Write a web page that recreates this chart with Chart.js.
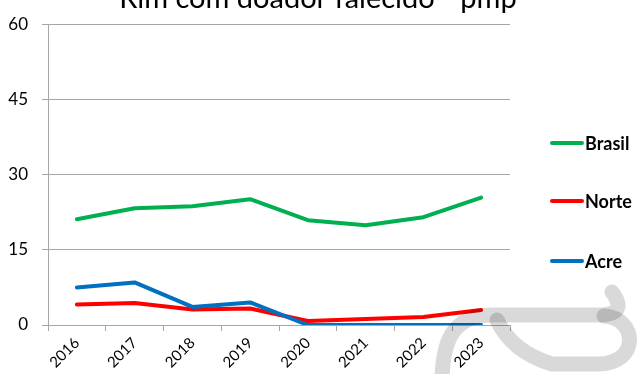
<!DOCTYPE html>
<html>
<head>
<meta charset="utf-8">
<script src="https://cdn.jsdelivr.net/npm/chart.js@4.4.1/dist/chart.umd.min.js"></script>
<style>
  html, body { margin: 0; padding: 0; background: #fff; }
  #wrap { width: 640px; height: 374px; position: relative; }
</style>
</head>
<body>
<div id="wrap"><canvas id="rimChart" width="640" height="374"></canvas></div>
<script>
// Chart values
const years = ['2016', '2017', '2018', '2019', '2020', '2021', '2022', '2023'];
const brasil = [21.1, 23.3, 23.7, 25.1, 20.9, 19.9, 21.5, 25.4];
const norte = [4.1, 4.4, 3.1, 3.3, 0.8, 1.2, 1.6, 3.0];
const acre = [7.5, 8.5, 3.6, 4.5, 0, 0, 0, 0];
const seriesNames = ['Brasil', 'Norte', 'Acre'];
const seriesColors = ['#00B050', '#FF0000', '#0070C0'];
const yTicks = [0, 15, 30, 45, 60];
const titleText = 'Rim com doador falecido - pmp';

const gridGray = '#a6a6a6';
const font = 'Lato, "Open Sans", sans-serif';

// title sits mostly above the canvas, only its lower part shows
const titlePlugin = {
  id: 'cutTitle',
  afterDraw(chart) {
    const c = chart.ctx;
    c.save();
    c.font = '29px ' + font;
    c.fillStyle = '#000';
    c.textAlign = 'center';
    c.textBaseline = 'alphabetic';
    c.fillText(titleText, 318, 8);
    c.restore();
  },
};

// legend on the right, widely spaced like the original
const sideLegend = {
  id: 'sideLegend',
  afterDraw(chart) {
    const c = chart.ctx;
    const rows = [143, 201, 261];
    c.save();
    chart.data.datasets.forEach((ds, i) => {
      const y = rows[i];
      c.strokeStyle = ds.borderColor;
      c.lineWidth = 4;
      c.lineCap = 'round';
      c.beginPath();
      c.moveTo(552, y);
      c.lineTo(582, y);
      c.stroke();
      c.font = 'bold 18px ' + font;
      c.fillStyle = '#000';
      c.textBaseline = 'middle';
      c.fillText(ds.label, 585, y + 1);
    });
    c.restore();
  },
};

// light gray logo watermark in the lower right corner
const watermark = {
  id: 'watermark',
  afterDraw(chart) {
    const c = chart.ctx;
    c.save();
    c.globalCompositeOperation = 'multiply';
    c.strokeStyle = '#d9d9d9';
    c.lineWidth = 15;
    c.lineCap = 'round';
    c.lineJoin = 'round';
    c.beginPath();
    c.moveTo(442, 390);
    c.bezierCurveTo(441, 345, 450, 315, 492, 315);
    c.lineTo(602, 315);
    c.quadraticCurveTo(628, 313, 612, 292);
    c.stroke();
    c.beginPath();
    c.moveTo(497, 320);
    c.quadraticCurveTo(512, 352, 552, 364);
    c.lineTo(598, 364);
    c.bezierCurveTo(640, 364, 638, 318, 604, 316);
    c.stroke();
    c.restore();
  },
};

const datasets = [brasil, norte, acre].map((vals, i) => ({
  label: seriesNames[i],
  data: vals,
  borderColor: seriesColors[i],
  backgroundColor: seriesColors[i],
  borderWidth: 4,
  borderCapStyle: 'round',
  borderJoinStyle: 'round',
  pointRadius: 0,
  tension: 0,
  order: 2 - i, // Acre on top
}));

const ctx = document.getElementById('rimChart').getContext('2d');
const rimChart = new Chart(ctx, {
  type: 'line',
  data: { labels: years, datasets: datasets },
  options: {
    responsive: false,
    animation: false,
    layout: { padding: { top: 20, right: 130, left: 0, bottom: 0 } },
    plugins: {
      legend: { display: false },
      title: { display: false },
      tooltip: { enabled: false },
    },
    scales: {
      x: {
        offset: true,
        afterFit: (scale) => { scale.height = 49; },
        grid: {
          offset: true,
          drawOnChartArea: false,
          drawTicks: true,
          tickLength: 6,
          color: gridGray,
        },
        border: { color: gridGray },
        ticks: {
          color: '#000',
          font: { family: font, size: 15 },
          maxRotation: 45,
          minRotation: 45,
          padding: 3,
        },
      },
      y: {
        min: 0,
        max: 60,
        afterFit: (scale) => { scale.width = 48; },
        afterBuildTicks: (scale) => {
          scale.ticks = yTicks.map((v) => ({ value: v }));
        },
        grid: { color: gridGray, tickLength: 6 },
        border: { color: gridGray },
        ticks: {
          color: '#000',
          font: { family: font, size: 17 },
          padding: 14,
        },
      },
    },
  },
  plugins: [titlePlugin, sideLegend, watermark],
});
</script>
</body>
</html>
